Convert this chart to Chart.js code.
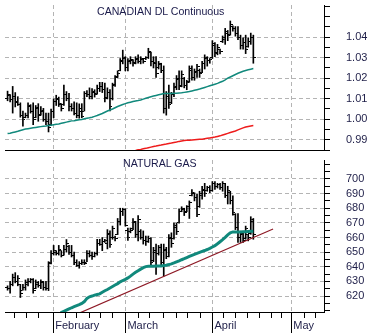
<!DOCTYPE html>
<html>
<head>
<meta charset="utf-8">
<script src="https://cdn.jsdelivr.net/npm/chart.js@4.4.1/dist/chart.umd.min.js"></script>
<style>
  body { margin: 0; background: #fff; }
  #wrap { position: relative; width: 371px; height: 333px; overflow: hidden; background: #fff; }
  #topChart { position: absolute; left: 0; top: 0; }
  #gasChart { position: absolute; left: 0; top: 155px; }
  .title { position: absolute; font: 10.6px 'Liberation Sans', Arial, sans-serif; line-height: 13px; color: #1a1a4a; white-space: nowrap; }
</style>
</head>
<body>
<div id="wrap">
  <canvas id="topChart" width="371" height="155"></canvas>
  <canvas id="gasChart" width="371" height="178"></canvas>
  <div class="title" style="left:97px; top:5px;">CANADIAN DL Continuous</div>
  <div class="title" style="left:123px; top:157px;">NATURAL GAS</div>
</div>
<script>
// --- Data ---
// Canadian dollar, daily OHLC
const cadHigh = [
  1.0137, 1.0120, 1.0160, 1.0130, 1.0110, 1.0080, 1.0040, 1.0030, 1.0080, 1.0071,
  1.0080, 1.0067, 1.0076, 1.0062, 1.0053, 1.0030, 1.0030, 1.0050, 1.0099, 1.0117,
  1.0108, 1.0076, 1.0167, 1.0135, 1.0126, 1.0076, 1.0085, 1.0080, 1.0075, 1.0076,
  1.0135, 1.0140, 1.0153, 1.0150, 1.0144, 1.0167, 1.0180, 1.0180, 1.0176, 1.0153,
  1.0144, 1.0176, 1.0213, 1.0236, 1.0296, 1.0337, 1.0305, 1.0296, 1.0305, 1.0291,
  1.0305, 1.0314, 1.0305, 1.0296, 1.0305, 1.0346, 1.0328, 1.0305, 1.0305, 1.0282,
  1.0273, 1.0260, 1.0135, 1.0167, 1.0131, 1.0176, 1.0213, 1.0236, 1.0236, 1.0204,
  1.0190, 1.0260, 1.0260, 1.0245, 1.0268, 1.0245, 1.0282, 1.0314, 1.0305, 1.0296,
  1.0383, 1.0374, 1.0365, 1.0342, 1.0406, 1.0443, 1.0433, 1.0479, 1.0456, 1.0452,
  1.0452, 1.0410, 1.0397, 1.0410, 1.0397, 1.0420, 1.0410
];
const cadLow = [
  1.0090, 1.0085, 1.0030, 1.0060, 1.0067, 1.0010, 0.9966, 1.0007, 1.0007, 1.0030,
  0.9973, 1.0007, 0.9990, 1.0020, 0.9990, 0.9973, 0.9938, 0.9970, 1.0007, 1.0067,
  1.0062, 1.0040, 1.0067, 1.0090, 1.0040, 1.0040, 1.0021, 1.0007, 1.0005, 1.0007,
  1.0040, 1.0110, 1.0099, 1.0099, 1.0108, 1.0122, 1.0135, 1.0130, 1.0085, 1.0099,
  1.0040, 1.0094, 1.0160, 1.0204, 1.0236, 1.0270, 1.0236, 1.0236, 1.0270, 1.0259,
  1.0270, 1.0273, 1.0270, 1.0273, 1.0291, 1.0296, 1.0260, 1.0250, 1.0204, 1.0245,
  1.0227, 1.0030, 1.0020, 1.0053, 1.0076, 1.0110, 1.0144, 1.0144, 1.0158, 1.0153,
  1.0144, 1.0180, 1.0190, 1.0190, 1.0204, 1.0204, 1.0227, 1.0245, 1.0259, 1.0273,
  1.0296, 1.0305, 1.0314, 1.0319, 1.0374, 1.0365, 1.0383, 1.0410, 1.0429, 1.0405,
  1.0388, 1.0342, 1.0342, 1.0320, 1.0351, 1.0365, 1.0273
];
const cadOpen = [
  1.0100, 1.0115, 1.0095, 1.0110, 1.0085, 1.0070, 1.0020, 1.0010, 1.0020, 1.0060,
  1.0040, 1.0010, 1.0050, 1.0025, 1.0040, 1.0000, 0.9990, 0.9975, 1.0040, 1.0085,
  1.0095, 1.0070, 1.0070, 1.0120, 1.0100, 1.0060, 1.0050, 1.0030, 1.0020, 1.0040,
  1.0040, 1.0125, 1.0120, 1.0110, 1.0130, 1.0125, 1.0150, 1.0160, 1.0145, 1.0105,
  1.0130, 1.0100, 1.0165, 1.0210, 1.0240, 1.0285, 1.0295, 1.0250, 1.0280, 1.0285,
  1.0275, 1.0290, 1.0280, 1.0290, 1.0295, 1.0300, 1.0325, 1.0280, 1.0275, 1.0250,
  1.0265, 1.0240, 1.0050, 1.0110, 1.0080, 1.0120, 1.0155, 1.0195, 1.0165, 1.0200,
  1.0165, 1.0185, 1.0240, 1.0205, 1.0230, 1.0240, 1.0230, 1.0270, 1.0295, 1.0285,
  1.0300, 1.0360, 1.0325, 1.0340, 1.0380, 1.0390, 1.0420, 1.0415, 1.0450, 1.0440,
  1.0420, 1.0400, 1.0360, 1.0375, 1.0355, 1.0380, 1.0400
];
const cadClose = [
  1.0120, 1.0095, 1.0110, 1.0080, 1.0070, 1.0020, 1.0000, 1.0020, 1.0065, 1.0040,
  1.0000, 1.0055, 1.0020, 1.0045, 1.0000, 0.9990, 0.9960, 1.0040, 1.0085, 1.0100,
  1.0075, 1.0050, 1.0120, 1.0100, 1.0060, 1.0050, 1.0030, 1.0020, 1.0050, 1.0015,
  1.0125, 1.0120, 1.0110, 1.0135, 1.0120, 1.0150, 1.0160, 1.0145, 1.0100, 1.0130,
  1.0060, 1.0170, 1.0205, 1.0225, 1.0280, 1.0300, 1.0250, 1.0285, 1.0290, 1.0270,
  1.0295, 1.0280, 1.0295, 1.0280, 1.0300, 1.0330, 1.0280, 1.0270, 1.0225, 1.0270,
  1.0240, 1.0050, 1.0110, 1.0070, 1.0120, 1.0160, 1.0200, 1.0160, 1.0220, 1.0165,
  1.0180, 1.0245, 1.0205, 1.0235, 1.0255, 1.0225, 1.0270, 1.0300, 1.0285, 1.0290,
  1.0370, 1.0320, 1.0350, 1.0330, 1.0400, 1.0430, 1.0410, 1.0460, 1.0440, 1.0420,
  1.0400, 1.0360, 1.0375, 1.0340, 1.0380, 1.0400, 1.0300
];
// moving averages on the CAD panel
const cadAvgShort = [
  0.9930, 0.9932, 0.9935, 0.9938, 0.9941, 0.9945, 0.9949, 0.9952, 0.9954, 0.9956,
  0.9958, 0.9960, 0.9962, 0.9964, 0.9966, 0.9967, 0.9969, 0.9971, 0.9973, 0.9975,
  0.9977, 0.9980, 0.9983, 0.9986, 0.9989, 0.9992, 0.9993, 0.9995, 0.9997, 0.9999,
  1.0002, 1.0005, 1.0007, 1.0010, 1.0014, 1.0018, 1.0023, 1.0028, 1.0034, 1.0040,
  1.0045, 1.0050, 1.0056, 1.0062, 1.0067, 1.0072, 1.0076, 1.0080, 1.0083, 1.0086,
  1.0089, 1.0091, 1.0094, 1.0098, 1.0102, 1.0106, 1.0110, 1.0113, 1.0116, 1.0119,
  1.0122, 1.0125, 1.0125, 1.0126, 1.0126, 1.0127, 1.0127, 1.0128, 1.0129, 1.0131,
  1.0133, 1.0135, 1.0138, 1.0141, 1.0144, 1.0147, 1.0151, 1.0155, 1.0159, 1.0163,
  1.0167, 1.0171, 1.0175, 1.0180, 1.0185, 1.0192, 1.0200, 1.0206, 1.0212, 1.0218,
  1.0224, 1.0229, 1.0234, 1.0238, 1.0241, 1.0244, 1.0247
];
const cadAvgLong = [
  null, null, null, null, null, null, null, null, null, null,
  null, null, null, null, null, null, null, null, null, null,
  null, null, null, null, null, null, null, null, null, null,
  null, null, null, null, null, null, null, null, null, null,
  null, null, null, null, null, null, null, null, null, null,
  0.9848, 0.9851, 0.9853, 0.9856, 0.9858, 0.9861, 0.9864, 0.9867, 0.9869, 0.9872,
  0.9874, 0.9877, 0.9879, 0.9882, 0.9884, 0.9887, 0.9889, 0.9892, 0.9894, 0.9896,
  0.9897, 0.9898, 0.9899, 0.9900, 0.9901, 0.9902, 0.9903, 0.9905, 0.9907, 0.9909,
  0.9911, 0.9913, 0.9916, 0.9919, 0.9923, 0.9927, 0.9931, 0.9935, 0.9939, 0.9943,
  0.9948, 0.9953, 0.9958, 0.9962, 0.9965, 0.9967, 0.9969
];

// Natural gas, daily OHLC
const gasHigh = [
  627, 630, 635, 636, 634, 628, 628, 631, 632, 632,
  632, 631, 630, 631, 630, 630, 643.5, 651, 654.6, 651,
  654.6, 651, 654.6, 658.6, 654.6, 654.6, 650, 644.8, 643.5, 644.8,
  644.8, 651, 651, 650, 650, 658.8, 658.8, 660, 658.8, 665.4,
  664.5, 667.8, 661, 673, 680, 680, 679.6, 666.5, 666.5, 673,
  671, 675, 665.4, 664.5, 661, 661, 660, 653.3, 655.5, 654.6,
  655.5, 655.5, 653.3, 662, 663.2, 669.8, 669.8, 679.6, 681, 680,
  681.8, 685, 692.8, 690.6, 689.5, 691.6, 695, 697, 695, 695.4,
  698.2, 698.2, 697, 697, 698.2, 697, 695, 691.6, 688.4, 676.3,
  676.3, 664.3, 663.2, 667.8, 662.2, 674.2, 673
];
const gasLow = [
  624, 622, 627, 629, 627, 619, 624, 624, 627, 629,
  622, 625, 626, 625, 624, 624, 623.7, 642, 648, 648,
  648, 646.7, 648, 650, 648.5, 646.7, 641.5, 640.2, 639, 641.5,
  641.5, 643.5, 646.7, 645, 646.7, 648, 654.6, 651, 656.6, 652.2,
  653.3, 658.8, 657.7, 662, 668.5, 675, 667.8, 658, 663.2, 665.4,
  660, 657.7, 658.8, 655.5, 654.6, 656.6, 640.2, 643.5, 634.7, 648,
  640.2, 633.6, 645.5, 646.7, 653.3, 658.8, 662, 669.8, 677.6, 675,
  677.6, 673, 688.4, 685, 674.2, 680.6, 686.2, 688, 691.6, 690.6,
  691.6, 692.8, 693.8, 692.8, 691.6, 687.3, 682.9, 682.9, 675.2, 665.4,
  656.6, 656.6, 656.6, 658.8, 657.7, 662.2, 658.8
];
const gasOpen = [
  626, 625, 628, 633, 630, 628, 624, 626, 628, 630,
  631, 625, 628, 627, 629, 626, 625, 643, 649, 650,
  649, 651, 648, 652, 654, 650, 648, 643, 641, 642,
  643, 643, 649, 648, 647, 649, 656, 655, 657, 656,
  662, 660, 660, 662, 671, 678, 679, 665, 664, 666,
  670, 662, 664, 660, 658, 657, 659, 644, 650, 649,
  653, 643, 651, 647, 659, 659, 667, 670, 678, 679,
  678, 681, 689, 690, 687, 681, 689, 692, 692, 694,
  692, 697, 695, 696, 694, 697, 689, 691, 685, 676,
  667, 660, 662, 659, 662, 663, 671
];
const gasClose = [
  625, 628, 633, 630, 632, 622, 626, 629, 630, 631,
  624, 629, 627, 630, 626, 625, 642, 649, 651, 649,
  652, 648, 652, 656, 650, 648, 643, 641, 642, 643,
  642, 649, 648, 647, 649, 656, 655, 657, 658, 663,
  655, 666, 659, 671, 678, 679, 668, 660, 665, 671,
  662, 672, 660, 658, 657, 659, 643, 651, 640, 653,
  643, 652, 647, 660, 656, 668, 664, 678, 680, 677,
  681, 684, 691, 687, 676, 690, 693, 690, 694, 692,
  697, 695, 696, 694, 697, 689, 692, 685, 677, 667,
  660, 663, 658, 666, 660, 672, 662
];
const gasAvg = [
  null, null, null, null, null, null, null, null, null, null,
  null, null, null, null, null, null, null, null, null, null,
  607, 608.7, 609.6, 610.4, 611.2, 612.0, 612.7, 613.4, 614.1, 615.0,
  616.2, 618.4, 619.5, 620.0, 620.6, 621.1, 621.5, 622.6, 623.6, 624.5,
  625.5, 626.5, 627.5, 628.5, 629.7, 630.6, 631.4, 632.4, 633.6, 635.0,
  636.2, 637.3, 638.4, 639.4, 640.1, 640.3, 640.4, 640.4, 640.5, 640.6,
  640.6, 640.8, 641.1, 641.5, 642.0, 642.6, 643.3, 644.0, 644.8, 645.5,
  646.3, 647.1, 647.8, 648.5, 649.1, 649.8, 650.5, 651.1, 651.8, 652.6,
  653.5, 654.4, 655.7, 657.1, 658.5, 660.1, 661.8, 663.2, 663.8, 663.8,
  663.8, 663.8, 663.9, 664.0, 664.1, 664.2, 664.3
];
// support line drawn under the gas lows (two end points)
const trendX = [29.2, 104.7];
const trendY = [608.5, 665.8];

// x axis: one unit per trading day, months and weekly ticks
const days = cadHigh.map((_, i) => i + 1);
const xMax = 124.6;
const monthPos = [18.85, 47.05, 81.05, 111.8];
const monthLabels = ['February', 'March', 'April', 'May'];
const weekTicks = [3.6, 8.1, 12.8, 23.35, 27.6, 32.7, 37.2, 41.65, 51.9, 56.4, 61.55,
  66.65, 71.15, 76.25, 85.25, 89.75, 94.6, 99.35, 103.85, 107.7, 116.65, 121.15];

// y axis: tick marks and the labelled ones
const cadTicks = [0.985, 0.99, 0.995, 1.00, 1.005, 1.01, 1.015, 1.02, 1.025, 1.03, 1.035, 1.04, 1.045, 1.05, 1.055];
const cadLabels = [0.99, 1.00, 1.01, 1.02, 1.03, 1.04];
const gasTicks = [610, 615, 620, 625, 630, 635, 640, 645, 650, 655, 660, 665, 670, 675, 680, 685, 690, 695, 700, 705, 710];
const gasLabels = [620, 630, 640, 650, 660, 670, 680, 690, 700];

// --- Styling ---
const FONT = "'Liberation Sans', Arial, sans-serif";
const INK = '#1e1e48';
const GRID = '#b4b4b4';
const TEAL = '#11897c';

Chart.defaults.font.family = FONT;
Chart.defaults.font.size = 11;
Chart.defaults.animation = false;

// small canvases used as the open / close ticks of each bar
function tickImage(side) {
  const c = document.createElement('canvas');
  c.width = 5;
  c.height = 1;
  const g = c.getContext('2d');
  g.fillStyle = '#000';
  g.fillRect(side === 'left' ? 0 : 3, 0, 2, 1);
  return c;
}
const openTick = tickImage('left');
const closeTick = tickImage('right');

function xAxis(showLabels) {
  return {
    type: 'linear',
    min: 0,
    max: xMax,
    bounds: 'data',
    offset: false,
    afterBuildTicks: s => { s.ticks = monthPos.map(v => ({ value: v })); },
    afterFit: s => {
      s.height = showLabels ? 21 : 1;
      s.paddingLeft = 0;
      s.paddingRight = 0;
    },
    ticks: {
      display: showLabels,
      autoSkip: false,
      maxRotation: 0,
      align: 'start',
      labelOffset: 2,
      padding: -14,
      color: INK,
      callback: (v, i) => monthLabels[i]
    },
    grid: { offset: false, color: GRID, drawTicks: showLabels, tickLength: 21, tickColor: '#000', tickWidth: 1 },
    border: { display: true, color: '#000', width: 1, dash: [4, 3] }
  };
}

function yAxis(min, max, tickVals, labels, fmt) {
  const isLabel = v => labels.some(l => Math.abs(l - v) < 1e-6);
  return {
    type: 'linear',
    position: 'right',
    min: min,
    max: max,
    bounds: 'data',
    beginAtZero: false,
    afterBuildTicks: s => { s.ticks = tickVals.map(v => ({ value: v })); },
    afterFit: s => {
      s.width = 47;
      s.paddingTop = 0;
      s.paddingBottom = 0;
    },
    ticks: {
      autoSkip: false,
      padding: 16,
      color: INK,
      callback: v => isLabel(v) ? fmt(v) : ''
    },
    grid: {
      color: c => (c.tick && isLabel(c.tick.value)) ? GRID : 'rgba(0,0,0,0)',
      tickColor: '#000',
      tickLength: 6,
      tickWidth: 1
    },
    border: { display: true, color: '#000', width: 1, dash: [4, 3] }
  };
}

function ohlcSets(high, low, open, close) {
  return [
    {
      type: 'bar',
      data: days.map((d, i) => ({ x: d, y: [low[i], high[i]] })),
      backgroundColor: '#000',
      borderWidth: 0,
      barThickness: 1,
      order: 3
    },
    {
      type: 'line',
      showLine: false,
      data: days.map((d, i) => ({ x: d, y: open[i] })),
      pointStyle: openTick,
      pointRadius: 2,
      order: 2
    },
    {
      type: 'line',
      showLine: false,
      data: days.map((d, i) => ({ x: d, y: close[i] })),
      pointStyle: closeTick,
      pointRadius: 2,
      order: 2
    }
  ];
}

function lineSet(xs, ys, color, width) {
  return {
    type: 'line',
    data: xs.map((x, i) => ({ x: x, y: ys[i] })),
    borderColor: color,
    borderWidth: width,
    pointRadius: 0,
    tension: 0,
    clip: 0,
    order: 1
  };
}

const baseOptions = {
  responsive: false,
  events: [],
  layout: { padding: 0 },
  plugins: { legend: { display: false }, tooltip: { enabled: false } }
};

// --- Top panel: Canadian dollar ---
new Chart(document.getElementById('topChart'), {
  type: 'bar',
  data: {
    datasets: [
      ...ohlcSets(cadHigh, cadLow, cadOpen, cadClose),
      lineSet(days, cadAvgShort, TEAL, 1.5),
      lineSet(days, cadAvgLong, '#ee1c1c', 1.5)
    ]
  },
  options: {
    ...baseOptions,
    scales: {
      x: xAxis(false),
      y: yAxis(0.985, 1.0557, cadTicks, cadLabels, v => v.toFixed(2))
    }
  }
});

// weekly tick marks under the bottom axis
const weekTickPlugin = {
  id: 'weekTicks',
  afterDraw(chart) {
    const x = chart.scales.x;
    const ctx = chart.ctx;
    ctx.save();
    ctx.strokeStyle = '#000';
    ctx.lineWidth = 1;
    ctx.beginPath();
    weekTicks.forEach(v => {
      const px = Math.round(x.getPixelForValue(v)) + 0.5;
      ctx.moveTo(px, x.top);
      ctx.lineTo(px, x.top + 6);
    });
    ctx.stroke();
    ctx.restore();
  }
};

// --- Bottom panel: natural gas ---
new Chart(document.getElementById('gasChart'), {
  type: 'bar',
  data: {
    datasets: [
      ...ohlcSets(gasHigh, gasLow, gasOpen, gasClose),
      lineSet(days, gasAvg, TEAL, 3),
      lineSet(trendX, trendY, '#8e1a26', 1.2)
    ]
  },
  options: {
    ...baseOptions,
    scales: {
      x: xAxis(true),
      y: yAxis(609.1, 712.95, gasTicks, gasLabels, v => String(v))
    }
  },
  plugins: [weekTickPlugin]
});
</script>
</body>
</html>
